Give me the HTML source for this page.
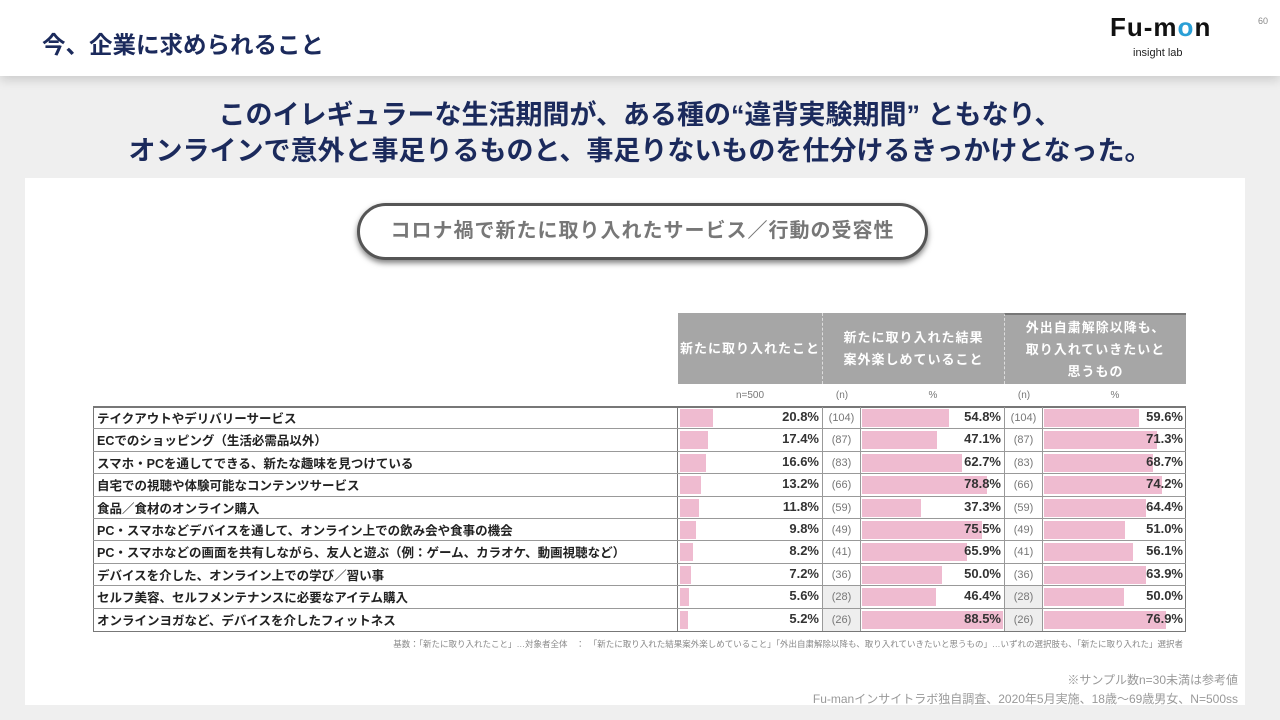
<!DOCTYPE html>
<html><head><meta charset="utf-8"><style>
*{margin:0;padding:0;box-sizing:border-box}
body{width:1280px;height:720px;background:#efefef;font-family:"Liberation Sans","Noto Sans CJK JP",sans-serif;position:relative;overflow:hidden}
.hdr{position:absolute;left:0;top:0;width:1280px;height:76px;background:#fff;box-shadow:0 4px 10px rgba(0,0,0,.15)}
.a{position:absolute}
.t{color:#1b2a5c;font-weight:bold}
.panel{position:absolute;left:25px;top:178px;width:1220px;height:527px;background:#fff}
.pill{position:absolute;left:357px;top:203px;width:571px;height:57px;border:3px solid #555;border-radius:29px;background:#fff;box-shadow:0 3px 6px rgba(0,0,0,.5);color:#777;font-size:20px;font-weight:bold;text-align:center;line-height:51px;letter-spacing:1px}
.gh{position:absolute;top:313px;height:71px;background:#a6a6a6;color:#fff;font-size:13px;font-weight:bold;text-align:center;display:flex;align-items:center;justify-content:center;line-height:22px;letter-spacing:1px}
.sub{position:absolute;top:390px;font-size:10px;color:#777;text-align:center}
.row{position:absolute;left:93px;width:1093px;height:22.4px;border-bottom:1px solid #999}
.lab{position:absolute;left:4px;top:1px;font-size:12.5px;font-weight:bold;color:#222;white-space:nowrap}
.bar{position:absolute;top:2px;height:18px;background:#efbbd0}
.v{position:absolute;top:2px;font-size:13px;font-weight:bold;color:#333;text-align:right;width:80px}
.n{position:absolute;top:0;height:22px;width:39px;font-size:11px;color:#777;text-align:center;line-height:22px;border-left:1px solid #999;border-right:1px solid #999}
</style></head><body>
<div class="hdr"></div>
<div class="a t" style="left:42px;top:26px;font-size:23.5px">今、企業に求められること</div>
<div class="a" style="left:1110px;top:12px;font-size:26px;font-weight:bold;color:#111;letter-spacing:1px">Fu-m<span style="color:#2a9fd6">o</span>n</div>
<div class="a" style="left:1133px;top:47px;font-size:11px;color:#222">insight lab</div>
<div class="a" style="left:1258px;top:16px;font-size:9px;color:#888">60</div>
<div class="a t" style="left:0;width:1280px;text-align:center;top:97px;font-size:27px;line-height:36px">このイレギュラーな生活期間が、ある種の“違背実験期間” ともなり、<br>オンラインで意外と事足りるものと、事足りないものを仕分けるきっかけとなった。</div>
<div class="panel"></div>
<div class="pill">コロナ禍で新たに取り入れたサービス／行動の受容性</div>
<div class="gh" style="left:678px;width:144px">新たに取り入れたこと</div>
<div class="gh" style="left:822px;width:182px;border-left:1px dashed #ddd">新たに取り入れた結果<br>案外楽しめていること</div>
<div class="gh" style="left:1004px;width:182px;border-left:1px dashed #ddd;border-top:2px solid #777">外出自粛解除以降も、<br>取り入れていきたいと<br>思うもの</div>
<div class="sub" style="left:678px;width:144px">n=500</div>
<div class="sub" style="left:822px;width:40px">(n)</div>
<div class="sub" style="left:862px;width:142px">%</div>
<div class="sub" style="left:1004px;width:40px">(n)</div>
<div class="sub" style="left:1044px;width:142px">%</div>
<div class="a" style="left:93px;top:406px;width:1093px;height:226px;border:1px solid #777;border-top:2px solid #777"></div>
<div class="a" style="left:677px;top:406px;height:226px;border-left:1px solid #777"></div>
<div id="rows"></div>
<div class="a" style="left:0;width:1183px;text-align:right;top:638px;font-size:8.5px;color:#888">基数：「新たに取り入れたこと」…対象者全体　：　「新たに取り入れた結果案外楽しめていること」「外出自粛解除以降も、取り入れていきたいと思うもの」…いずれの選択肢も、「新たに取り入れた」選択者</div>
<div class="a" style="right:42px;top:671px;font-size:12px;color:#999">※サンプル数n=30未満は参考値</div>
<div class="a" style="right:42px;top:690px;font-size:12px;color:#999">Fu-manインサイトラボ独自調査、2020年5月実施、18歳～69歳男女、N=500ss</div>
<script>
var d=[["テイクアウトやデリバリーサービス",20.8,104,54.8,59.6],["ECでのショッピング（生活必需品以外）",17.4,87,47.1,71.3],["スマホ・PCを通してできる、新たな趣味を見つけている",16.6,83,62.7,68.7],["自宅での視聴や体験可能なコンテンツサービス",13.2,66,78.8,74.2],["食品／食材のオンライン購入",11.8,59,37.3,64.4],["PC・スマホなどデバイスを通して、オンライン上での飲み会や食事の機会",9.8,49,75.5,51.0],["PC・スマホなどの画面を共有しながら、友人と遊ぶ（例：ゲーム、カラオケ、動画視聴など）",8.2,41,65.9,56.1],["デバイスを介した、オンライン上での学び／習い事",7.2,36,50.0,63.9],["セルフ美容、セルフメンテナンスに必要なアイテム購入",5.6,28,46.4,50.0],["オンラインヨガなど、デバイスを介したフィットネス",5.2,26,88.5,76.9]];
var h="",k=1.59;
d.forEach(function(r,i){var y=407+i*22.4;var g=r[2]<30?"background:#eee;":"";
h+='<div class="row" style="top:'+y+'px;'+(i==9?'border-bottom:none':'')+'">'+
'<div class="lab">'+r[0]+'</div>'+
'<div class="bar" style="left:587px;width:'+(r[1]*k)+'px"></div><div class="v" style="left:646px">'+r[1].toFixed(1)+'%</div>'+
'<div class="n" style="left:729px;'+g+'">('+r[2]+')</div>'+
'<div class="bar" style="left:769px;width:'+(r[3]*k)+'px"></div><div class="v" style="left:828px">'+r[3].toFixed(1)+'%</div>'+
'<div class="n" style="left:911px;'+g+'">('+r[2]+')</div>'+
'<div class="bar" style="left:951px;width:'+(r[4]*k)+'px"></div><div class="v" style="left:1010px">'+r[4].toFixed(1)+'%</div>'+
'</div>';});
document.getElementById("rows").innerHTML=h;
</script>
</body></html>
